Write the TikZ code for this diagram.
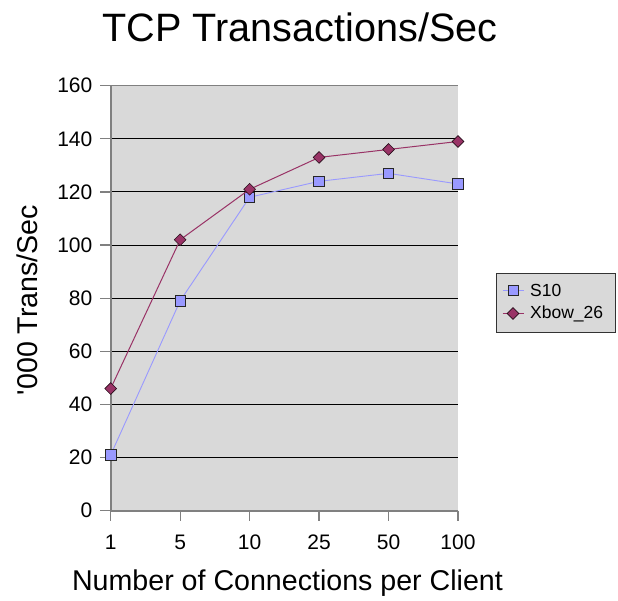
\documentclass[tikz,border=0pt]{standalone}
\usepackage{fontspec}
\setmainfont{Liberation Sans}[Ligatures=TeXOff]
\usetikzlibrary{shapes.geometric}
\definecolor{plotbg}{HTML}{D9D9D9}
\definecolor{axisgray}{HTML}{808080}
\definecolor{sten}{HTML}{9999FF}
\definecolor{xbow}{HTML}{993366}
\tikzset{
  grid line/.style={black, line width=0.9pt},
  axis line/.style={axisgray, line width=1.8pt},
  tick line/.style={axisgray, line width=1.2pt},
  ticklab/.style={font=\fontsize{21}{24}\selectfont, inner sep=0pt},
  sline/.style={sten, line width=0.9pt},
  xline/.style={xbow, line width=1pt},
  smark/.style={rectangle, draw=black!85, line width=0.8pt, fill=sten, minimum size=10.5pt, inner sep=0pt},
  xmark/.style={diamond, draw=black!75!xbow, line width=0.6pt, fill=xbow, minimum size=12pt, inner sep=0pt},
  legtext/.style={font=\fontsize{17.5}{20}\selectfont, anchor=west, inner sep=0pt},
}
\begin{document}
\begin{tikzpicture}[x=1pt,y=-1pt]
\useasboundingbox (0,0) rectangle (618,601);
% plot area
\fill[plotbg] (110.7,85.7) rectangle (458,510.7);
% gridlines and y ticks
\foreach \v in {20,40,...,140} {
  \draw[grid line] (110.7,{510.7-\v*2.65625}) -- (458,{510.7-\v*2.65625});
}
\draw[axisgray, line width=1.2pt] (110.7,85.7) -- (458,85.7);
\foreach \v in {0,20,...,160} {
  \draw[tick line] (100,{510.7-\v*2.65625}) -- (110.7,{510.7-\v*2.65625});
  \node[ticklab, anchor=east] (yl\v) at (92.5,{510.7-\v*2.65625}) {\v};
}
% x ticks and labels
\foreach \i/\lab in {0/1,1/5,2/10,3/25,4/50,5/100} {
  \draw[tick line] ({110.7+\i*69.46},510.7) -- ({110.7+\i*69.46},520.5);
  \node[ticklab] (xl\i) at ({110.7+\i*69.46},542.5) {\lab};
}
% axes
\draw[axis line] (110.7,85.7) -- (110.7,510.7);
\draw[axis line] (110.7,510.7) -- (458,510.7);
% data coordinates
\foreach \i/\v in {1/21,2/79,3/118,4/124,5/127,6/123} {
  \coordinate (ps\i) at ({110.7+(\i-1)*69.46},{510.7-\v*2.65625});
}
\foreach \i/\v in {1/46,2/102,3/121,4/133,5/136,6/139} {
  \coordinate (px\i) at ({110.7+(\i-1)*69.46},{510.7-\v*2.65625});
}
% S10 series
\draw[sline] (ps1) -- (ps2) -- (ps3) -- (ps4) -- (ps5) -- (ps6);
\foreach \i in {1,...,6} { \node[smark] (s\i) at (ps\i) {}; }
% Xbow series
\draw[xline] (px1) -- (px2) -- (px3) -- (px4) -- (px5) -- (px6);
\foreach \i in {1,...,6} { \node[xmark] (x\i) at (px\i) {}; }
% titles
\node[font=\fontsize{39.6}{44}\selectfont, inner sep=0pt, anchor=base] (title) at (300,41.5) {TCP Transactions/Sec};
\node[font=\fontsize{28.6}{32}\selectfont, inner sep=0pt, anchor=base] (xlabel) at (287.5,590) {Number of Connections per Client};
\node[font=\fontsize{28.6}{32}\selectfont, inner sep=0pt, anchor=base, rotate=90] (ylabel) at (37,300) {'000 Trans/Sec};
% legend
\node[draw=black!80, line width=0.9pt, fill=plotbg, minimum width=119.3pt, minimum height=59pt, inner sep=0pt, anchor=north west] (legend) at (495.7,272.7) {};
\coordinate (la1) at (502.5,290.5);
\coordinate (lb1) at (523.5,290.5);
\coordinate (la2) at (502.5,313.5);
\coordinate (lb2) at (523.5,313.5);
\draw[sline] (la1) -- (lb1);
\node[smark, minimum size=10pt] (lm1) at (513,290.5) {};
\draw[xline] (la2) -- (lb2);
\node[xmark] (lm2) at (513,313.5) {};
\node[legtext] (lt1) at (530,290.5) {S10};
\node[legtext] (lt2) at (530,313.5) {Xbow\_26};
\end{tikzpicture}
\end{document}
